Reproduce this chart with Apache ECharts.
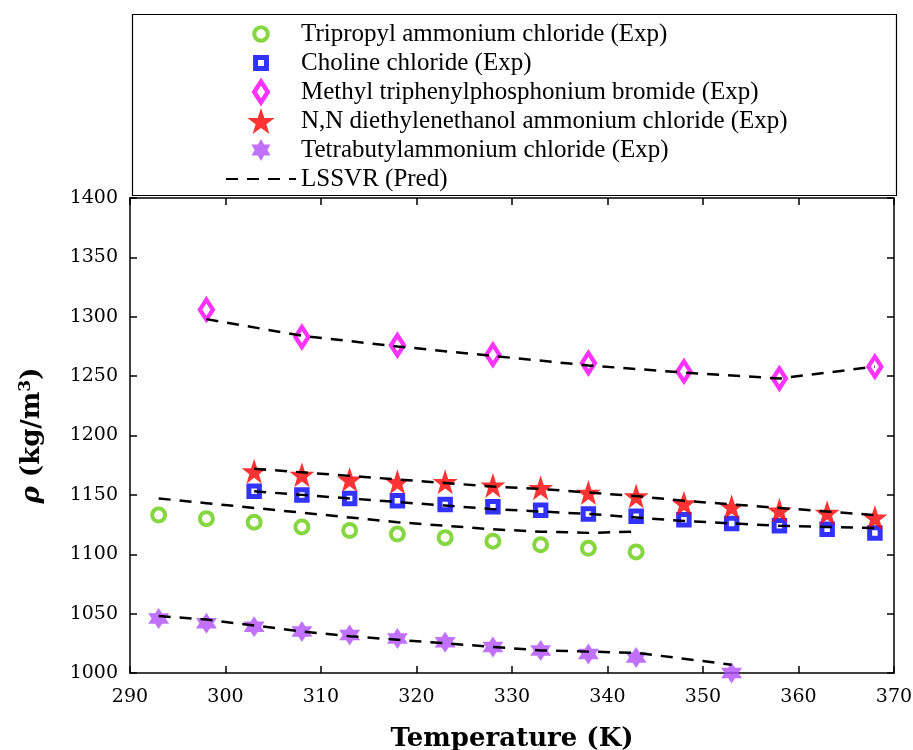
<!DOCTYPE html>
<html><head><meta charset="utf-8">
<script src="https://cdn.jsdelivr.net/npm/echarts@6/dist/echarts.min.js"></script>
<style>html,body{margin:0;padding:0;background:#fff}#c{width:913px;height:750px}</style>
</head><body><div id="c"></div>
<script>
// ---- data ----
const tripropylT    = [293,298,303,308,313,318,323,328,333,338,343];
const tripropylExp  = [1133,1130,1127,1123,1120,1117,1114,1111,1108,1105,1102];
const tripropylPred = [1147,1143,1139,1135,1131,1127,1124,1121,1119,1118,1119];

const cholineT    = [303,308,313,318,323,328,333,338,343,348,353,358,363,368];
const cholineExp  = [1153,1150,1147,1145,1142,1140,1137,1134,1132,1129,1126,1124,1121,1118];
const cholinePred = [1153,1150,1147,1144,1141,1138,1136,1134,1131,1128,1126,1124,1123,1122];

const methylT    = [298,308,318,328,338,348,358,368];
const methylExp  = [1306,1283,1276,1268,1261,1254,1248,1258];
const methylPred = [1298,1284,1275,1267,1259,1253,1248,1258];

const nnT    = [303,308,313,318,323,328,333,338,343,348,353,358,363,368];
const nnExp  = [1170,1167,1163,1161,1161,1158,1156,1152,1149,1143,1140,1137,1135,1131];
const nnPred = [1172,1169,1166,1163,1160,1157,1155,1152,1149,1145,1142,1139,1136,1133];

const tbaT    = [293,298,303,308,313,318,323,328,333,338,343,353];
const tbaExp  = [1046,1042,1039,1035,1032,1029,1026,1022,1019,1016,1013,1000];
const tbaPred = [1048,1045,1040,1035,1031,1028,1025,1022,1019,1018,1017,1007];

const xTicks = {min:290, max:370, interval:10};
const yTicks = {min:1000, max:1400, interval:50};

const names = [
  'Tripropyl ammonium chloride (Exp)',
  'Choline chloride (Exp)',
  'Methyl triphenylphosphonium bromide (Exp)',
  'N,N diethylenethanol ammonium chloride (Exp)',
  'Tetrabutylammonium chloride (Exp)',
  'LSSVR (Pred)'
];
// ---- build ----
const pair = (xs, ys) => xs.map((x,i)=>[x, ys[i]]);
const STAR5 = 'path://M50,0 L61.8,35.1 L98.1,35.1 L68.8,56.7 L79.4,91 L50,70 L20.6,91 L31.2,56.7 L1.9,35.1 L38.2,35.1 Z';
const STAR6 = 'path://M50,0 L64.4,25 L93.3,25 L78.9,50 L93.3,75 L64.4,75 L50,100 L35.6,75 L6.7,75 L21.1,50 L6.7,25 L35.6,25 Z';
// legend icons (padded so their drawn size matches the plot markers)
const L_CIRCLE  = 'path://M0,0 M100,100 M76,50 A26,26 0 1,1 24,50 A26,26 0 1,1 76,50 Z';
const L_RECT    = 'path://M0,0 M100,100 M29,29 L71,29 L71,71 L29,71 Z';
const L_DIAMOND = 'path://M0,0 M100,100 M50,10 L76,50 L50,90 L24,50 Z';
const L_STAR5   = STAR5;
const L_STAR6   = 'path://M0,0 M100,100 M50,8 L62.2,29.2 L86.7,29.2 L74.5,50 L86.7,70.8 L62.2,70.8 L50,92 L37.8,70.8 L13.3,70.8 L25.5,50 L13.3,29.2 L37.8,29.2 Z';
const FONT = 'DejaVu Serif';

const lineBase = (xs, ys) => ({
  name: names[5], type:'line', data: pair(xs, ys), symbol:'none', z:5,
  lineStyle:{color:'#000', width:2.5, type:[12,9]}, itemStyle:{color:'#000'}
});

const series = [
  {name:names[0], type:'scatter', data:pair(tripropylT,tripropylExp), symbol:'circle', symbolSize:13,
   itemStyle:{color:'#fff', borderColor:'#66cc11', borderWidth:4}},
  {name:names[1], type:'scatter', data:pair(cholineT,cholineExp), symbol:'rect', symbolSize:10.5,
   itemStyle:{color:'#fff', borderColor:'#0000ff', borderWidth:5}},
  {name:names[2], type:'scatter', data:pair(methylT,methylExp), symbol:'diamond', symbolSize:[13,20],
   itemStyle:{color:'#fff', borderColor:'#ff00ff', borderWidth:4.5}},
  {name:names[3], type:'scatter', data:pair(nnT,nnExp), symbol:STAR5, symbolSize:25,
   itemStyle:{color:'#ff0000'}},
  {name:names[4], type:'scatter', data:pair(tbaT,tbaExp), symbol:STAR6, symbolSize:21,
   itemStyle:{color:'#b14dff'}},
  lineBase(tripropylT, tripropylPred),
  lineBase(cholineT, cholinePred),
  lineBase(methylT, methylPred),
  lineBase(nnT, nnPred),
  lineBase(tbaT, tbaPred)
];
series.forEach(s=>{ s.animation=false; });

const axisLine = {show:true, onZero:false, lineStyle:{color:'#000', width:1.5}};
const axisTick = {show:true, inside:true, length:7, lineStyle:{color:'#000', width:1.5}};

const chart = echarts.init(document.getElementById('c'), null, {renderer:'canvas'});
chart.setOption({
  backgroundColor:'#fff',
  animation:false,
  graphic:[{type:'rect', left:130, top:12, shape:{width:764, height:181},
            style:{fill:'none', stroke:'#000', lineWidth:1.2}, z:10}],
  legend:{
    data:[
      {name:names[0], icon:L_CIRCLE, itemStyle:{borderWidth:4, borderColor:'#66cc11', color:'#fff'}},
      {name:names[1], icon:L_RECT, itemStyle:{borderWidth:5, borderColor:'#0000ff', color:'#fff'}},
      {name:names[2], icon:L_DIAMOND, itemStyle:{borderWidth:4.5, borderColor:'#ff00ff', color:'#fff'}},
      {name:names[3], icon:L_STAR5},
      {name:names[4], icon:L_STAR6},
      {name:names[5], itemStyle:{color:'rgba(0,0,0,0)', borderWidth:0, opacity:0}}
    ],
    orient:'vertical', left:225, top:18, padding:0,
    itemWidth:70, itemHeight:26, itemGap:-3,
    textStyle:{fontFamily:'Liberation Serif', fontSize:25, color:'#000', lineHeight:32}
  },
  grid:{left:130, right:19, top:198, bottom:77, containLabel:false, outerBoundsMode:'none'},
  xAxis:[
    {type:'value', position:'bottom', min:xTicks.min, max:xTicks.max, interval:xTicks.interval,
     axisLine, axisTick, splitLine:{show:false},
     axisLabel:{fontFamily:FONT, fontSize:19, color:'#000', margin:15},
     name:'Temperature (K)', nameLocation:'middle', nameGap:53,
     nameTextStyle:{fontFamily:FONT, fontWeight:'bold', fontSize:26, color:'#000'}},
    {type:'value', position:'top', min:xTicks.min, max:xTicks.max, interval:xTicks.interval,
     axisLine, axisTick, axisLabel:{show:false}, splitLine:{show:false}}
  ],
  yAxis:[
    {type:'value', position:'left', min:yTicks.min, max:yTicks.max, interval:yTicks.interval,
     axisLine, axisTick, splitLine:{show:false},
     axisLabel:{fontFamily:FONT, fontSize:19, color:'#000', margin:12, formatter:v=>String(v)},
     name:'{i|ρ} (kg/m{s|3})', nameLocation:'middle', nameGap:82, nameRotate:90,
     nameTextStyle:{fontFamily:FONT, fontWeight:'bold', fontSize:26, color:'#000',
       rich:{
         i:{fontFamily:FONT, fontStyle:'italic', fontWeight:'bold', fontSize:26, color:'#000'},
         s:{fontFamily:FONT, fontWeight:'bold', fontSize:17, color:'#000', verticalAlign:'top', padding:[0,0,14,0]}
       }}},
    {type:'value', position:'right', min:yTicks.min, max:yTicks.max, interval:yTicks.interval,
     axisLine, axisTick, axisLabel:{show:false}, splitLine:{show:false}}
  ],
  series
});
</script></body></html>
